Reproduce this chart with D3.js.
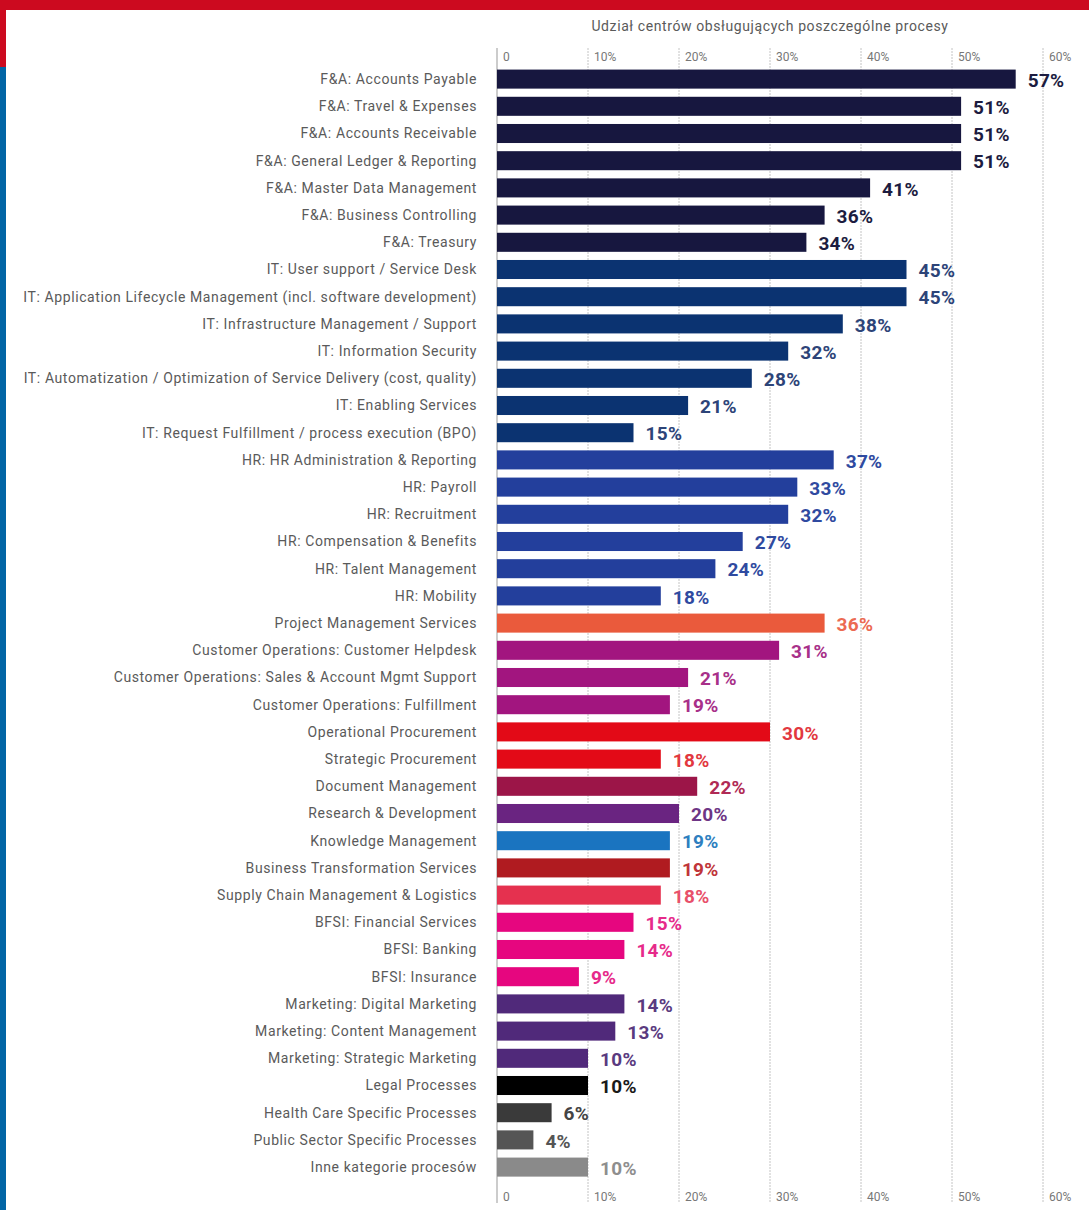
<!DOCTYPE html>
<html>
<head>
<meta charset="utf-8">
<script src="https://cdn.jsdelivr.net/npm/d3@7"></script>
<style>
  body { margin: 0; background: #fff; }
  .cat { font-family: Roboto, "Noto Sans", sans-serif; font-size: 14px; letter-spacing: 0.6px; fill: #5a5a5a; }
  .val { font-family: Roboto, "Noto Sans", sans-serif; font-size: 19px; font-weight: bold; letter-spacing: 0.3px; }
  .tick text { font-family: Roboto, "Noto Sans", sans-serif; font-size: 12px; fill: #777; }
</style>
</head>
<body>
<div id="vis"></div>
<script>
// Data
var categories = [
  "F&A: Accounts Payable", "F&A: Travel & Expenses", "F&A: Accounts Receivable",
  "F&A: General Ledger & Reporting", "F&A: Master Data Management", "F&A: Business Controlling",
  "F&A: Treasury",
  "IT: User support / Service Desk", "IT: Application Lifecycle Management (incl. software development)",
  "IT: Infrastructure Management / Support", "IT: Information Security",
  "IT: Automatization / Optimization of Service Delivery (cost, quality)", "IT: Enabling Services",
  "IT: Request Fulfillment / process execution (BPO)",
  "HR: HR Administration & Reporting", "HR: Payroll", "HR: Recruitment",
  "HR: Compensation & Benefits", "HR: Talent Management", "HR: Mobility",
  "Project Management Services",
  "Customer Operations: Customer Helpdesk", "Customer Operations: Sales & Account Mgmt Support",
  "Customer Operations: Fulfillment",
  "Operational Procurement", "Strategic Procurement", "Document Management",
  "Research & Development", "Knowledge Management", "Business Transformation Services",
  "Supply Chain Management & Logistics",
  "BFSI: Financial Services", "BFSI: Banking", "BFSI: Insurance",
  "Marketing: Digital Marketing", "Marketing: Content Management", "Marketing: Strategic Marketing",
  "Legal Processes", "Health Care Specific Processes", "Public Sector Specific Processes",
  "Inne kategorie procesów"
];
var values = [57, 51, 51, 51, 41, 36, 34,
              45, 45, 38, 32, 28, 21, 15,
              37, 33, 32, 27, 24, 18,
              36,
              31, 21, 19,
              30, 18, 22, 20, 19, 19, 18,
              15, 14, 9,
              14, 13, 10,
              10, 6, 4, 10];
var groups = ["fa","fa","fa","fa","fa","fa","fa",
              "it","it","it","it","it","it","it",
              "hr","hr","hr","hr","hr","hr",
              "pm",
              "cust","cust","cust",
              "proc","proc","doc","rd","km","bt","scm",
              "bfsi","bfsi","bfsi",
              "mkt","mkt","mkt",
              "legal","health","public","other"];
var tickValues = [0, 10, 20, 30, 40, 50, 60];
var axisTitle = "Udział centrów obsługujących poszczególne procesy";

// colours per group: bar, label
var barColor = {fa:"#17173f", it:"#0b3371", hr:"#233f9c", pm:"#ea5a3c", cust:"#a2157f",
  proc:"#e30a17", doc:"#9c1548", rd:"#6a2481", km:"#1a74c0", bt:"#b01b20", scm:"#e5314f",
  bfsi:"#e6067f", mkt:"#50297a", legal:"#000000", health:"#3a3a3a", public:"#555555", other:"#8a8a8a"};
var labelColor = {fa:"#1c1c40", it:"#2d4478", hr:"#2f4aa0", pm:"#ec6a52", cust:"#a83089",
  proc:"#e2383f", doc:"#b02a55", rd:"#6e3585", km:"#2e7fbf", bt:"#c0353a", scm:"#e8506a",
  bfsi:"#e62a8a", mkt:"#5a3a80", legal:"#1a1a1a", health:"#444444", public:"#555555", other:"#8e8e8e"};

var W = 1089, H = 1210;
var svg = d3.select("#vis").append("svg").attr("width", W).attr("height", H);

// frame: red top band and left strip, blue below
svg.append("rect").attr("x", 0).attr("y", 0).attr("width", W).attr("height", 10).attr("fill", "#cc0a1f");
svg.append("rect").attr("x", 0).attr("y", 0).attr("width", 6).attr("height", 67).attr("fill", "#cc0a1f");
svg.append("rect").attr("x", 0).attr("y", 67).attr("width", 6).attr("height", H - 67).attr("fill", "#0265a5");

var x = d3.scaleLinear().domain([0, 60]).range([497, 1043]);
var y = d3.scaleBand().domain(categories).range([65.5, 1180.7]).paddingInner(0.3).paddingOuter(0.15);

// grid
svg.append("g").selectAll("line").data(tickValues).enter().append("line")
  .attr("x1", function(d){ return x(d); }).attr("x2", function(d){ return x(d); })
  .attr("y1", 48).attr("y2", 1203)
  .attr("stroke", function(d){ return d === 0 ? "#999" : "#c4c4c4"; })
  .attr("stroke-width", 1)
  .attr("stroke-dasharray", function(d){ return d === 0 ? null : "2,1"; });

// tick labels top + bottom
function fmt(d){ return d === 0 ? "0" : d + "%"; }
[61, 1201].forEach(function(ty){
  svg.append("g").attr("class", "tick").selectAll("text").data(tickValues).enter().append("text")
    .attr("x", function(d){ return x(d) + 6; }).attr("y", ty).text(fmt);
});

svg.append("text").attr("class", "cat").attr("x", 770).attr("y", 31)
  .attr("text-anchor", "middle").style("font-size", "14px").text(axisTitle);

var rows = categories.map(function(c, i){ return {cat: c, v: values[i], g: groups[i]}; });

svg.append("g").selectAll("rect").data(rows).enter().append("rect")
  .attr("x", x(0)).attr("y", function(d){ return y(d.cat); })
  .attr("width", function(d){ return x(d.v) - x(0); })
  .attr("height", y.bandwidth())
  .attr("fill", function(d){ return barColor[d.g]; });

svg.append("g").selectAll("text").data(rows).enter().append("text")
  .attr("class", "cat").attr("text-anchor", "end")
  .attr("x", 477).attr("y", function(d){ return y(d.cat) + y.bandwidth() / 2; })
  .attr("dy", "0.35em").text(function(d){ return d.cat; });

svg.append("g").selectAll("text").data(rows).enter().append("text")
  .attr("class", "val")
  .attr("x", function(d){ return x(d.v) + 12; })
  .attr("y", function(d){ return y(d.cat) + y.bandwidth() / 2; })
  .attr("dy", "0.4em")
  .attr("fill", function(d){ return labelColor[d.g]; })
  .text(function(d){ return d.v + "%"; });
</script>
</body>
</html>
